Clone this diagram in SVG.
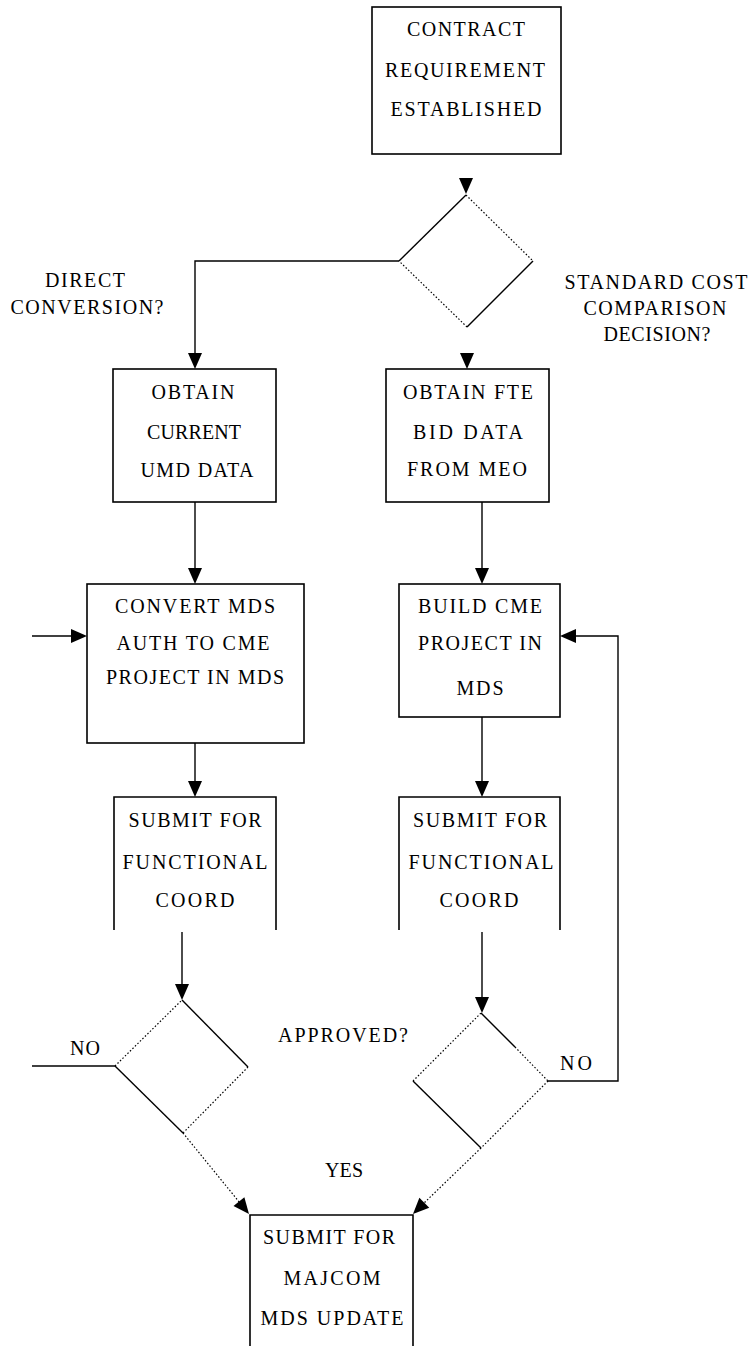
<svg xmlns="http://www.w3.org/2000/svg" xmlns:xlink="http://www.w3.org/1999/xlink" width="749" height="1346" viewBox="0 0 749 1346">
<defs>
<style>
.box{fill:none;stroke:#000;stroke-width:1.6}
.solid{fill:none;stroke:#000;stroke-width:1.4}
.dot{fill:none;stroke:#000;stroke-width:1.2;stroke-dasharray:1.5 2}
.t{font-family:"Liberation Serif","Times New Roman",serif;font-size:20px;fill:#000;text-anchor:middle}
</style>
<path id="ah" d="M-7,-16 L7,-16 L0,0 Z" fill="#000"/>
</defs>
<rect width="749" height="1346" fill="#fff"/>

<g id="connectors">
<use xlink:href="#ah" href="#ah" transform="translate(466,194)"/>
<path class="solid" d="M399,261 H195 V356"/>
<use xlink:href="#ah" href="#ah" transform="translate(195,369)"/>
<use xlink:href="#ah" href="#ah" transform="translate(467,369)"/>
<path class="solid" d="M195,502 V572"/>
<use xlink:href="#ah" href="#ah" transform="translate(195,584)"/>
<path class="solid" d="M482,502 V572"/>
<use xlink:href="#ah" href="#ah" transform="translate(482,584)"/>
<path class="solid" d="M32,636 H76"/>
<use xlink:href="#ah" href="#ah" transform="translate(87,636) rotate(-90)"/>
<path class="solid" d="M548,1081 H618 V636 H572"/>
<use xlink:href="#ah" href="#ah" transform="translate(560,636) rotate(90)"/>
<path class="solid" d="M195,743 V785"/>
<use xlink:href="#ah" href="#ah" transform="translate(195,797)"/>
<path class="solid" d="M482,717 V785"/>
<use xlink:href="#ah" href="#ah" transform="translate(482,797)"/>
<path class="solid" d="M182,932 V988"/>
<use xlink:href="#ah" href="#ah" transform="translate(182,1000)"/>
<path class="solid" d="M482,932 V1001"/>
<use xlink:href="#ah" href="#ah" transform="translate(482,1013)"/>
<path class="solid" d="M32,1066 H115"/>
<path class="dot" d="M183,1133 L240,1203"/>
<use xlink:href="#ah" href="#ah" transform="translate(249,1214) rotate(-39)"/>
<path class="dot" d="M481,1148 L422,1205"/>
<use xlink:href="#ah" href="#ah" transform="translate(413,1214) rotate(45)"/>
</g>

<g id="n1">
<rect class="box" x="372" y="7" width="189" height="147"/>
<text class="t" x="466" y="36" textLength="118" lengthAdjust="spacing">CONTRACT</text>
<text class="t" x="465" y="77" textLength="160" lengthAdjust="spacing">REQUIREMENT</text>
<text class="t" x="466" y="116" textLength="151" lengthAdjust="spacing">ESTABLISHED</text>
</g>

<g id="d1">
<path class="solid" d="M399,261 L466,195"/>
<path class="dot" d="M466,195 L533,261"/>
<path class="solid" d="M533,261 L467,327"/>
<path class="dot" d="M467,327 L399,261"/>
<text class="t" x="85" y="287" textLength="80" lengthAdjust="spacing">DIRECT</text>
<text class="t" x="87" y="314" textLength="153" lengthAdjust="spacing">CONVERSION?</text>
<text class="t" x="656" y="289" textLength="183" lengthAdjust="spacing">STANDARD COST</text>
<text class="t" x="655" y="315" textLength="143" lengthAdjust="spacing">COMPARISON</text>
<text class="t" x="657" y="341" textLength="107" lengthAdjust="spacing">DECISION?</text>
</g>

<g id="n2">
<rect class="box" x="113" y="369" width="163" height="133"/>
<text class="t" x="193" y="399" textLength="83" lengthAdjust="spacing">OBTAIN</text>
<text class="t" x="194" y="439" textLength="94" lengthAdjust="spacing">CURRENT</text>
<text class="t" x="197" y="477" textLength="113" lengthAdjust="spacing">UMD DATA</text>
</g>

<g id="n3">
<rect class="box" x="386" y="369" width="163" height="133"/>
<text class="t" x="468" y="399" textLength="130" lengthAdjust="spacing">OBTAIN FTE</text>
<text class="t" x="468" y="439" textLength="110" lengthAdjust="spacing">BID DATA</text>
<text class="t" x="467" y="476" textLength="120" lengthAdjust="spacing">FROM MEO</text>
</g>

<g id="n4">
<rect class="box" x="87" y="584" width="217" height="159"/>
<text class="t" x="195" y="613" textLength="160" lengthAdjust="spacing">CONVERT MDS</text>
<text class="t" x="193" y="650" textLength="153" lengthAdjust="spacing">AUTH TO CME</text>
<text class="t" x="195" y="684" textLength="178" lengthAdjust="spacing">PROJECT IN MDS</text>
</g>

<g id="n5">
<rect class="box" x="399" y="584" width="161" height="133"/>
<text class="t" x="480" y="613" textLength="124" lengthAdjust="spacing">BUILD CME</text>
<text class="t" x="480" y="650" textLength="124" lengthAdjust="spacing">PROJECT IN</text>
<text class="t" x="480" y="695" textLength="47" lengthAdjust="spacing">MDS</text>
</g>

<g id="n6">
<path class="box" d="M114,930 V797 H276 V930"/>
<text class="t" x="195" y="827" textLength="133" lengthAdjust="spacing">SUBMIT FOR</text>
<text class="t" x="195" y="869" textLength="145" lengthAdjust="spacing">FUNCTIONAL</text>
<text class="t" x="195" y="907" textLength="79" lengthAdjust="spacing">COORD</text>
</g>

<g id="n7">
<path class="box" d="M399,930 V797 H560 V930"/>
<text class="t" x="480" y="827" textLength="134" lengthAdjust="spacing">SUBMIT FOR</text>
<text class="t" x="481" y="869" textLength="145" lengthAdjust="spacing">FUNCTIONAL</text>
<text class="t" x="479" y="907" textLength="79" lengthAdjust="spacing">COORD</text>
</g>

<g id="d2">
<path class="dot" d="M115,1066 L182,1000"/>
<path class="solid" d="M182,1000 L248,1067"/>
<path class="dot" d="M248,1067 L183,1133"/>
<path class="solid" d="M183,1133 L115,1066"/>
<text class="t" x="85" y="1055" textLength="30" lengthAdjust="spacing">NO</text>
</g>

<g id="d3">
<path class="dot" d="M413,1081 L481,1013"/>
<path class="solid" d="M481,1013 L515,1047"/>
<path class="dot" d="M515,1047 L548,1081"/>
<path class="dot" d="M548,1081 L481,1148"/>
<path class="solid" d="M481,1148 L413,1081"/>
<text class="t" x="576" y="1070" textLength="32" lengthAdjust="spacing">NO</text>
</g>

<g id="labels">
<text class="t" x="343" y="1042" textLength="130" lengthAdjust="spacing">APPROVED?</text>
<text class="t" x="344" y="1177" textLength="38" lengthAdjust="spacing">YES</text>
</g>

<g id="n8">
<path class="box" d="M250,1346 V1215 H413 V1346"/>
<text class="t" x="329" y="1244" textLength="132" lengthAdjust="spacing">SUBMIT FOR</text>
<text class="t" x="332" y="1285" textLength="97" lengthAdjust="spacing">MAJCOM</text>
<text class="t" x="332" y="1325" textLength="143" lengthAdjust="spacing">MDS UPDATE</text>
</g>
</svg>
